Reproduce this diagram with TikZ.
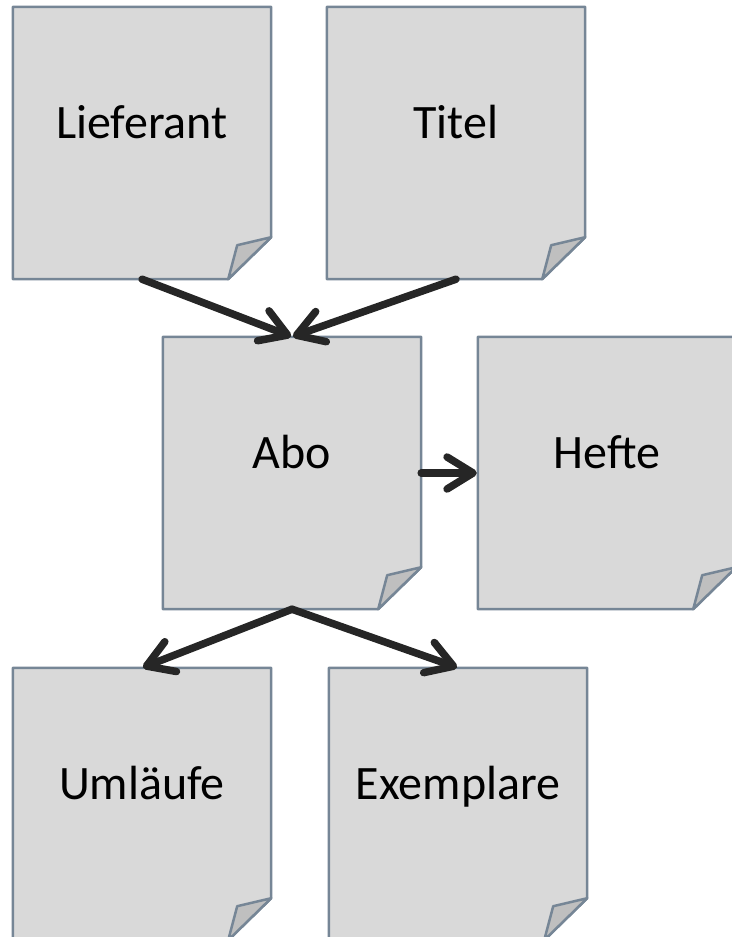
\documentclass[tikz,border=0pt]{standalone}
\usepackage{fontspec}
\setmainfont{Carlito}
\usetikzlibrary{arrows.meta}
\pgfdeclarelayer{background}
\pgfsetlayers{background,main}
\definecolor{paperfill}{HTML}{D9D9D9}
\definecolor{foldfill}{HTML}{BFBFBF}
\definecolor{paperedge}{HTML}{768696}
\definecolor{arrowcol}{HTML}{262626}
\tikzset{
  box/.style={rectangle, draw=none, inner sep=0pt, minimum width=258pt, minimum height=272pt},
  label/.style={anchor=base, inner sep=0pt, font=\fontsize{48}{52}\selectfont, text=black},
  paperline/.style={draw=paperedge, line width=2.5pt, fill=paperfill, line join=round},
  foldline/.style={draw=paperedge, line width=2.5pt, fill=foldfill, line join=round},
  conn/.style={draw=arrowcol, line width=7.5pt, line cap=round, -{Straight Barb[length=26pt,width=32pt,round]}, shorten >=1pt}
}
\newcommand{\paperbox}[4]{%
  \node[box] (#1) at (#2) {};
  \begin{pgfonlayer}{background}
    \path[paperline] (#1.north west) -- (#1.north east) -- ([yshift=42pt]#1.south east)
      -- ([xshift=-43pt]#1.south east) -- (#1.south west) -- cycle;
    \path[foldline] ([yshift=42pt]#1.south east) -- ([xshift=-34pt,yshift=34pt]#1.south east)
      -- ([xshift=-43pt]#1.south east) -- cycle;
  \end{pgfonlayer}
  \node[label] (#1-t) at ([yshift=5pt]#1.center) {#4};
}
\begin{document}
\begin{tikzpicture}[x=1pt,y=-1pt]
\useasboundingbox (0,0) rectangle (731,937);
\clip (0,0) rectangle (731,937);
\paperbox{lief}{142,143}{}{Lieferant}
\paperbox{titel}{456,143}{}{Titel}
\paperbox{abo}{292,473}{}{Abo}
\paperbox{hefte}{607,473}{}{Hefte}
\paperbox{uml}{142,804}{}{Umläufe}
\paperbox{expl}{458,804}{}{Exemplare}
\draw[conn] (lief.south) -- (abo.north);
\draw[conn] (titel.south) -- (abo.north);
\draw[conn] (abo.east) -- (hefte.west);
\draw[conn] (abo.south) -- (uml.north);
\draw[conn] (abo.south) -- (expl.north);
\end{tikzpicture}
\end{document}
